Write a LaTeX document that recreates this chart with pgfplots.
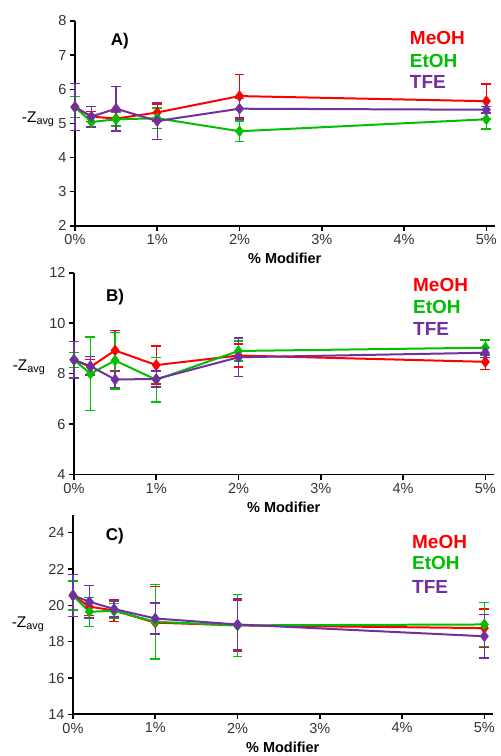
\documentclass[border=0pt]{standalone}
\usepackage{pgfplots}
\pgfplotsset{compat=1.18}
\usepackage{fontspec}
\setmainfont{Liberation Sans}
\definecolor{cMe}{HTML}{FF0000}
\definecolor{cEt}{HTML}{00BF00}
\definecolor{cTf}{HTML}{7030A0}
\pgfplotsset{
  panel/.style={
    scale only axis, width=420pt,
    axis lines*=left, axis line style={line width=1.8pt},
    tick align=outside, major tick length=5pt,
    tick style={line width=1.5pt, black},
    xmin=0, xmax=5.1, xtick={0,1,2,3,4,5},
    xticklabels={0\%,1\%,2\%,3\%,4\%,5\%},
    /pgf/number format/assume math mode=true,
    ticklabel style={font=\fontsize{14.5}{16}\selectfont, text=black!80},
    xlabel={\textbf{\% Modifier}},
    xlabel style={font=\fontsize{14.5}{16}\selectfont\bfseries, yshift=-2pt},
    clip=false,
  },
  ser/.style={color=#1, line width=2pt, mark=diamond*, mark size=5.5pt,
    mark options={fill=#1, draw=#1, line width=0.5pt},
    error bars/.cd, y dir=both, y explicit,
    error bar style={line width=1.4pt, color=#1},
    error mark options={rotate=90, mark size=5pt, line width=1.4pt, color=#1}},
}
\tikzset{
  lab/.style={font=\fontsize{17}{19}\selectfont\bfseries},
  leg/.style={font=\fontsize{19}{21}\selectfont\bfseries, anchor=west},
}
\begin{document}
\begin{tikzpicture}
\path (0,0) rectangle (501pt,756pt);
% Panel A
\begin{axis}[panel, at={(75pt,530pt)}, anchor=south west, height=205pt,
  ymin=2, ymax=8, ytick={2,3,4,5,6,7,8},
  ylabel={-Z\textsubscript{avg}},
  ylabel style={at={(ticklabel cs:0.52)}, anchor=east, rotate=-90, font=\fontsize{15.5}{17}\selectfont, xshift=3pt}]
\addplot+[ser=cMe] coordinates {(0,5.48) +- (0,0.3) (0.2,5.2) +- (0,0.15) (0.5,5.14) +- (0,0.2) (1,5.32) +- (0,0.25) (2,5.8) +- (0,0.63) (5,5.65) +- (0,0.5)};
\addplot+[ser=cEt] coordinates {(0,5.48) +- (0,0.3) (0.2,5.04) +- (0,0.15) (0.5,5.12) +- (0,0.2) (1,5.15) +- (0,0.3) (2,4.77) +- (0,0.3) (5,5.12) +- (0,0.28)};
\addplot+[ser=cTf] coordinates {(0,5.48) +- (0,0.68) (0.2,5.2) +- (0,0.3) (0.5,5.43) +- (0,0.65) (1,5.07) +- (0,0.55) (2,5.43) +- (0,0.3) (5,5.4) +- (0,0.1)};
\node[lab] at (rel axis cs:0.107,0.9) {A)};
\node[leg, text=cMe] at (rel axis cs:0.79,0.917) {MeOH};
\node[leg, text=cEt] at (rel axis cs:0.79,0.805) {EtOH};
\node[leg, text=cTf] at (rel axis cs:0.79,0.70) {TFE};
\end{axis}
% Panel B
\begin{axis}[panel, at={(74pt,281pt)}, anchor=south west, height=202pt,
  ymin=4, ymax=12, ytick={4,6,8,10,12},
  ylabel={-Z\textsubscript{avg}},
  ylabel style={at={(ticklabel cs:0.53)}, anchor=east, rotate=-90, font=\fontsize{15.5}{17}\selectfont, xshift=3pt}]
\addplot+[ser=cMe] coordinates {(0,8.55) +- (0,0.3) (0.2,8.27) +- (0,0.3) (0.5,8.92) +- (0,0.8) (1,8.34) +- (0,0.75) (2,8.72) +- (0,0.45) (5,8.47) +- (0,0.3)};
\addplot+[ser=cEt] coordinates {(0,8.55) +- (0,0.3) (0.2,8.0) +- (0,1.45) (0.5,8.52) +- (0,1.12) (1,7.76) +- (0,0.88) (2,8.9) +- (0,0.4) (5,9.03) +- (0,0.3)};
\addplot+[ser=cTf] coordinates {(0,8.55) +- (0,0.72) (0.2,8.3) +- (0,0.38) (0.5,7.77) +- (0,0.32) (1,7.79) +- (0,0.32) (2,8.65) +- (0,0.77) (5,8.83) +- (0,0.2)};
\node[lab] at (rel axis cs:0.098,0.88) {B)};
\node[leg, text=cMe] at (rel axis cs:0.80,0.94) {MeOH};
\node[leg, text=cEt] at (rel axis cs:0.80,0.83) {EtOH};
\node[leg, text=cTf] at (rel axis cs:0.80,0.72) {TFE};
\end{axis}
% Panel C
\begin{axis}[panel, at={(73pt,41pt)}, anchor=south west, height=200pt,
  ymin=14, ymax=25, ytick={14,16,18,20,22,24},
  ylabel={-Z\textsubscript{avg}},
  ylabel style={at={(ticklabel cs:0.45)}, anchor=east, rotate=-90, font=\fontsize{15.5}{17}\selectfont, xshift=3pt}]
\addplot+[ser=cMe] coordinates {(0,20.55) +- (0,0.8) (0.2,19.93) +- (0,0.5) (0.5,19.72) +- (0,0.6) (1,19.05) +- (0,2.0) (2,18.9) +- (0,1.4) (5,18.75) +- (0,1.05)};
\addplot+[ser=cEt] coordinates {(0,20.55) +- (0,0.8) (0.2,19.65) +- (0,0.8) (0.5,19.7) +- (0,0.4) (1,19.1) +- (0,2.05) (2,18.9) +- (0,1.7) (5,18.95) +- (0,1.2)};
\addplot+[ser=cTf] coordinates {(0,20.55) +- (0,1.15) (0.2,20.2) +- (0,0.9) (0.5,19.8) +- (0,0.45) (1,19.28) +- (0,0.85) (2,18.95) +- (0,1.4) (5,18.3) +- (0,1.2)};
\node[lab] at (rel axis cs:0.1,0.89) {C)};
\node[leg, text=cMe] at (rel axis cs:0.80,0.865) {MeOH};
\node[leg, text=cEt] at (rel axis cs:0.80,0.76) {EtOH};
\node[leg, text=cTf] at (rel axis cs:0.80,0.64) {TFE};
\end{axis}
\end{tikzpicture}
\end{document}
